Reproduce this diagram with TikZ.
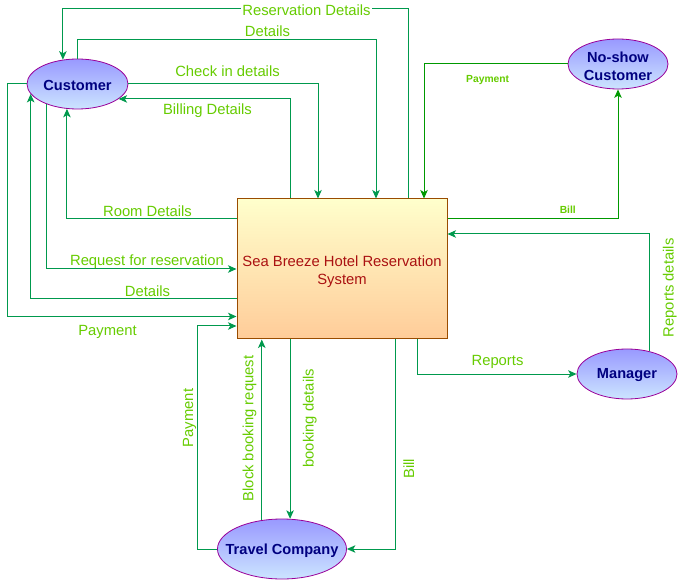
\documentclass[tikz,border=0pt]{standalone}
\usepackage{fontspec}
\setmainfont{Liberation Sans}
\usetikzlibrary{shapes.geometric,arrows.meta}
\definecolor{flowc}{HTML}{00994D}
\definecolor{nsc}{HTML}{009900}
\definecolor{lblc}{HTML}{66CC00}
\definecolor{entfillA}{HTML}{9999FF}
\definecolor{entfillB}{HTML}{CCE5FF}
\definecolor{entdraw}{HTML}{990099}
\definecolor{enttext}{HTML}{000080}
\definecolor{boxtop}{HTML}{FFFFCC}
\definecolor{boxbot}{HTML}{FFCC99}
\definecolor{boxdraw}{HTML}{994C00}
\definecolor{boxtext}{HTML}{AA1111}
\tikzset{
  entity/.style={ellipse, draw=entdraw, line width=0.8pt, top color=entfillA, bottom color=entfillB, inner sep=0pt},
  enttxt/.style={text=enttext, font=\fontsize{14.6}{18}\selectfont\bfseries, align=center, inner sep=0pt},
  sysbox/.style={rectangle, draw=boxdraw, line width=1pt, top color=boxtop, bottom color=boxbot, minimum width=210pt, minimum height=140pt, inner sep=0pt},
  boxtxt/.style={text=boxtext, font=\fontsize{14.8}{17.7}\selectfont, align=center, inner sep=0pt},
  flow/.style={draw=flowc, line width=1pt, -{Stealth[length=8.5pt,width=7.5pt,inset=2.2pt]}},
  nsflow/.style={flow, draw=nsc},
  lbl/.style={text=lblc, font=\fontsize{14.8}{18}\selectfont, inner sep=0pt},
  slbl/.style={text=lblc, font=\fontsize{10.3}{12}\selectfont\bfseries, inner sep=0pt}
}
\begin{document}
\begin{tikzpicture}[x=1pt,y=-1pt]
\useasboundingbox[fill=white] (0,0) rectangle (678,580);
% nodes
\node[sysbox] (box) at (342,269) {};
\node[boxtxt] (boxt) at (342,271.5) {Sea Breeze Hotel Reservation\\System};
\node[entity, minimum width=101pt, minimum height=50pt] (cust) at (77.5,84) {};
\node[enttxt] (custt) at (77.5,85.5) {Customer};
\node[entity, minimum width=100pt, minimum height=50pt] (ns) at (618,64) {};
\node[enttxt] (nst) at (618,66) {No-show\\Customer};
\node[entity, minimum width=100pt, minimum height=50pt] (man) at (627,374) {};
\node[enttxt] (mant) at (627,375.5) {Manager};
\node[entity, minimum width=129pt, minimum height=60pt] (tv) at (282,549) {};
\node[enttxt] (tvt) at (282,550.5) {Travel Company};
% connectors
\draw[flow] ([xshift=66pt]box.north) -- ++(0,-190) -| (cust.121);
\draw[flow] (cust.north) -- ++(0,-19.5) -| ([xshift=34pt]box.north);
\draw[flow] (cust.east) -| ([xshift=-24pt]box.north);
\draw[flow] ([xshift=-52pt]box.north) |- (cust.340);
\draw[flow] ([yshift=50pt]box.west) -| (cust.247);
\draw[flow] (cust.213) |- (box.west);
\draw[flow] ([yshift=-30pt]box.west) -| (cust.192);
\draw[flow] (cust.west) -- ++(-19.5,0) |- ([yshift=-47.5pt]box.west);
\draw[flow] (tv.west) -- ++(-20,0) |- ([yshift=-57pt]box.west);
\draw[flow] (tv.125) -- (tv.125 |- box.south);
\draw[flow] (tv.75 |- box.south) -- (tv.75);
\draw[flow] ([xshift=53.5pt]box.south) |- (tv.east);
\draw[flow] ([xshift=75pt]box.south) |- (man.west);
\draw[flow] (man.45) |- ([yshift=35pt]box.east);
\draw[nsflow] ([yshift=50pt]box.east) -| (ns.south);
\draw[nsflow] (ns.west) -| ([xshift=82pt]box.north);
% labels
\node[lbl, fill=white, inner xsep=1pt, inner ysep=1pt] (l1) at (306.5,10.5) {Reservation Details};
\node[lbl] (l2) at (267.5,31.5) {Details};
\node[lbl] (l3) at (227.5,71.5) {Check in details};
\node[lbl] (l4) at (207.5,111) {Billing Details};
\node[lbl] (l5) at (147.5,211.5) {Room Details};
\node[lbl] (l6) at (147,261.5) {Request for reservation};
\node[lbl] (l7) at (147.5,291) {Details};
\node[lbl] (l8) at (107.5,331.5) {Payment};
\node[lbl, rotate=90] (l9) at (189.5,418) {Payment};
\node[lbl, rotate=90] (l10) at (249.5,428.5) {Block booking request};
\node[lbl, rotate=90] (l11) at (309.8,418.3) {booking details};
\node[lbl, rotate=90] (l12) at (408.8,468.7) {Bill};
\node[lbl] (l13) at (497.5,361.5) {Reports};
\node[lbl, rotate=90] (l14) at (669.8,287.8) {Reports details};
\node[slbl] (l15) at (487.7,80.3) {Payment};
\node[slbl] (l16) at (567.8,210) {Bill};
\end{tikzpicture}
\end{document}
